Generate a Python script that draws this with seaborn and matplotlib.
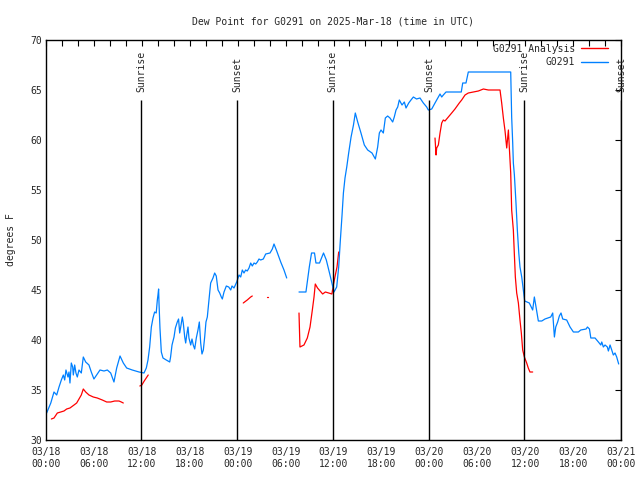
import matplotlib
matplotlib.use("Agg")
import matplotlib.pyplot as plt
import numpy as np
import pandas as pd
import seaborn as sns
from matplotlib.lines import Line2D

nan = float("nan")

# hours after 2025-03-18 00:00 UTC; nan marks a gap in the record
obs_hours = [
    0.08, 0.6, 1.0, 1.34, 1.63, 1.92, 2.17, 2.34, 2.5, 2.75, 2.88, 3.0, 3.17, 3.34,
    3.42, 3.59, 3.75, 3.92, 4.13, 4.42, 4.67, 4.97, 5.38, 5.67, 6.0, 6.34, 6.76, 7.26,
    7.68, 8.1, 8.51, 8.85, 9.27, 9.68, 10.1, 10.8, 11.65, 12.27, 12.56, 12.77, 12.98,
    13.19, 13.4, 13.6, 13.8, 13.94, 14.02, 14.1, 14.15, 14.27, 14.44, 14.65, 15.06,
    15.49, 15.6, 15.78, 16.03, 16.2, 16.44, 16.6, 16.74, 16.87, 17.07, 17.19, 17.37,
    17.49, 17.62, 17.78, 17.9, 18.12, 18.28, 18.44, 18.62, 18.82, 19.03, 19.2, 19.37,
    19.53, 19.7, 19.87, 20.03, 20.2, 20.37, 20.53, 20.62, 20.91, 21.12, 21.32, 21.54,
    21.75, 21.95, 22.08, 22.29, 22.58, 22.88, 23.13, 23.29, 23.54, 23.71, 23.88, 24.17,
    24.38, 24.58, 24.79, 25.0, 25.2, 25.42, 25.63, 25.83, 26.05, 26.26, 26.46, 26.67,
    26.88, 27.21, 27.51, 28.05, 28.34, 28.55, 28.89, 29.39, 29.8, 30.14,
    nan,
    31.68, 32.55, 32.97, 33.25, 33.62, 33.8, 34.25, 34.75, 35.1, 35.5, 35.8, 36.06,
    36.4, 36.65, 36.86, 37.07, 37.24, 37.44, 37.66, 37.9, 38.2, 38.5, 38.73, 39.03,
    39.44, 39.86, 40.28, 40.82, 41.24, 41.53, 41.74, 41.95, 42.24, 42.49, 42.78, 43.07,
    43.41, 43.61, 43.83, 44.04, 44.24, 44.58, 44.87, 45.08, 45.42, 45.7, 46.0, 46.4,
    46.83, 47.25, 47.67, 47.87, 48.3, 48.71, 49.13, 49.34, 49.55, 49.75, 50.09, 52.0,
    52.18, 52.59, 52.88, 58.19, 58.31, 58.44, 58.52, 58.65, 58.85, 59.02, 59.2, 59.35,
    59.57, 59.77, 59.94, 60.52, 60.94, 61.15, 61.36, 61.65, 62.08, 62.48, 63.2, 63.45,
    63.66, 63.83, 64.07, 64.28, 64.49, 64.7, 65.2, 65.62, 66.04, 66.66, 66.96, 67.63,
    67.8, 68.05, 68.22, 68.75, 69.17, 69.47, 69.59, 69.79, 70.0, 70.29, 70.42, 70.63,
    70.84, 71.04, 71.25, 71.46, 71.71,
]
obs_dewpt = [
    32.7, 33.7, 34.8, 34.5, 35.3, 36.0, 36.5, 36.0, 37.0, 36.3, 36.8, 35.7, 37.7, 37.3,
    36.5, 37.5, 36.7, 36.3, 37.0, 36.7, 38.3, 37.8, 37.5, 36.8, 36.1, 36.5, 37.0, 36.9,
    37.0, 36.7, 35.8, 37.2, 38.4, 37.7, 37.2, 37.0, 36.8, 36.7, 37.2, 38.0, 39.3,
    41.3, 42.2, 42.8, 42.7, 44.0, 44.5, 45.1, 43.7, 41.2, 38.8, 38.2, 38.0,
    37.8, 38.3, 39.5, 40.3, 41.2, 41.8, 42.1, 40.7, 41.3, 42.3, 41.7, 40.3,
    39.7, 40.5, 41.3, 40.2, 39.5, 40.1, 39.5, 39.1, 40.2, 41.0, 41.8, 39.7,
    38.6, 39.0, 40.3, 41.8, 42.3, 43.7, 45.0, 45.7, 46.2, 46.7, 46.4, 45.0,
    44.7, 44.3, 44.1, 44.8, 45.4, 45.3, 45.0, 45.4, 45.2, 45.5, 45.8, 46.5,
    46.3, 47.0, 46.7, 47.0, 46.9, 47.2, 47.7, 47.4, 47.7, 47.6, 47.8, 48.1,
    48.0, 48.1, 48.6, 48.7, 49.1, 49.6, 48.9, 47.8, 47.0, 46.2,
    nan,
    44.8, 44.8, 47.3, 48.7, 48.7, 47.7, 47.7, 48.7, 48.0, 46.7, 45.7, 44.8,
    45.3, 47.3, 50.0, 52.5, 54.7, 56.2, 57.3, 58.7, 60.3, 61.5, 62.7, 61.8,
    60.7, 59.5, 59.0, 58.7, 58.1, 59.3, 60.7, 61.0, 60.7, 62.2, 62.4, 62.2,
    61.8, 62.3, 63.0, 63.3, 64.0, 63.5, 63.8, 63.2, 63.7, 64.0, 64.3, 64.1,
    64.2, 63.7, 63.3, 63.0, 63.1, 63.7, 64.3, 64.6, 64.3, 64.5, 64.8, 64.8,
    65.7, 65.7, 66.8, 66.8, 62.3, 59.7, 57.7, 56.5, 53.7, 51.0, 48.7, 47.3,
    46.3, 45.0, 43.9, 43.7, 43.0, 44.3, 43.3, 41.9, 41.9, 42.1, 42.3, 42.7,
    40.3, 41.3, 41.8, 42.4, 42.7, 42.1, 42.0, 41.3, 40.8, 40.8, 41.0, 41.1,
    41.3, 41.1, 40.2, 40.2, 39.8, 39.5, 39.8, 39.3, 39.5, 39.3, 38.9, 39.5,
    39.0, 38.5, 38.7, 38.3, 37.6,
]

ana_hours = [
    0.67, 1.0, 1.42, 1.84, 2.25, 2.59, 3.0, 3.51, 3.84, 4.13, 4.42, 4.67, 4.97, 5.38,
    5.92, 6.42, 7.05, 7.6, 8.1, 8.6, 9.14, 9.43, 9.68,
    nan,
    11.75, 12.0, 12.3, 12.8,
    nan,
    24.7, 25.2, 25.63, 25.83,
    nan,
    27.65, 27.75,
    nan,
    31.68, 31.8, 32.3, 32.72, 33.06, 33.35, 33.56, 33.72, 34.0, 34.43, 34.64, 34.98,
    35.4, 35.8, 35.98, 36.23, 36.44, 36.65,
    nan,
    48.71, 48.84, 48.92, 49.13, 49.34, 49.55, 49.75, 49.96, 50.38, 50.8, 51.21, 51.75,
    52.05, 52.47, 52.88, 53.51, 54.14, 54.77, 55.39, 56.85, 57.06, 57.27, 57.48, 57.69,
    57.9, 58.02, 58.19, 58.31, 58.52, 58.65, 58.77, 58.94, 59.15, 59.35, 59.52, 59.69,
    59.9, 60.19, 60.39, 60.6, 60.94,
]
ana_dewpt = [
    32.1, 32.2, 32.7, 32.8, 32.9, 33.1, 33.2, 33.5, 33.7, 34.1, 34.5, 35.1, 34.8, 34.5,
    34.3, 34.2, 34.0, 33.8, 33.8, 33.9, 33.9, 33.8, 33.7,
    nan,
    35.4, 35.5, 35.9, 36.5,
    nan,
    43.7, 44.0, 44.3, 44.4,
    nan,
    44.3, 44.3,
    nan,
    42.7, 39.3, 39.5, 40.2, 41.3, 43.0, 44.3, 45.6, 45.2, 44.8, 44.6, 44.8,
    44.7, 44.6, 45.5, 46.5, 47.3, 48.8,
    nan,
    60.2, 58.5, 59.2, 59.5, 60.7, 61.7, 62.0, 61.9, 62.3, 62.7, 63.1, 63.7,
    64.0, 64.5, 64.7, 64.8, 64.9, 65.1, 65.0, 65.0, 63.7, 62.2, 60.9, 59.2,
    61.0, 59.2, 56.7, 53.0, 51.0, 48.5, 46.3, 44.7, 43.7, 42.0, 40.7, 39.0,
    38.3, 37.7, 37.2, 36.8, 36.8,
]

sunrise_hours = [11.9, 35.9, 59.88]
sunset_hours = [23.93, 47.95, 72.0]

tick_hours = list(range(0, 73, 6))
tick_labels = [
    "03/18\n00:00", "03/18\n06:00", "03/18\n12:00", "03/18\n18:00",
    "03/19\n00:00", "03/19\n06:00", "03/19\n12:00", "03/19\n18:00",
    "03/20\n00:00", "03/20\n06:00", "03/20\n12:00", "03/20\n18:00",
    "03/21\n00:00",
]

colors = {"G0291 Analysis": "#ff0000", "G0291": "#0080ff"}


def to_frame(hours, values, name):
    d = pd.DataFrame({"hours": hours, "dewpt": values})
    d["seg"] = name + d["dewpt"].isna().cumsum().astype(str)
    d["series"] = name
    return d.dropna()


df = pd.concat([
    to_frame(ana_hours, ana_dewpt, "G0291 Analysis"),
    to_frame(obs_hours, obs_dewpt, "G0291"),
])

sns.set_style("white")
plt.rcParams["font.family"] = ["DejaVu Sans Mono"]
plt.rcParams["font.size"] = 7

fig = plt.figure(figsize=(6.4, 4.8), dpi=100)
ax = fig.add_axes([46 / 640, 40 / 480, 575 / 640, 400 / 480])

sns.lineplot(
    data=df, x="hours", y="dewpt", hue="series", units="seg", estimator=None,
    palette=colors, linewidth=0.9, legend=False, sort=False, ax=ax,
)

ax.vlines(sunrise_hours + sunset_hours, 30, 64, color="black", linewidth=1)
for h in sunrise_hours:
    ax.text(h, 64.8, "Sunrise", rotation=90, ha="center", va="bottom", fontsize=7)
for h in sunset_hours:
    ax.text(h, 64.8, "Sunset", rotation=90, ha="center", va="bottom", fontsize=7)

ax.set_xlim(0, 72)
ax.set_ylim(30, 70)
ax.set_xticks(tick_hours)
ax.set_xticklabels(tick_labels)
ax.set_xticks(range(0, 73, 2), minor=True)
ax.set_yticks(range(30, 71, 5))
ax.tick_params(axis="both", which="both", direction="in", top=True, right=True,
               color="black", width=0.8, labelsize=7)
ax.tick_params(axis="both", which="major", length=4)
ax.tick_params(axis="x", which="minor", length=4)
ax.tick_params(axis="x", which="major", pad=5)
ax.tick_params(axis="y", which="major", pad=3)
for s in ax.spines.values():
    s.set_color("black")
    s.set_linewidth(1)

ax.set_xlabel("")
ax.set_ylabel("degrees F", fontsize=7, labelpad=10)
ax.set_title("Dew Point for G0291 on 2025-Mar-18 (time in UTC)", fontsize=7, pad=11)

handles = [Line2D([], [], color=colors[k], linewidth=1) for k in colors]
ax.legend(handles, list(colors), loc="upper right", bbox_to_anchor=(0.986, 1.003),
          frameon=False, markerfirst=False, fontsize=7, handlelength=2.8,
          handletextpad=0.6, labelspacing=0.35, borderaxespad=0.3, borderpad=0.2)

plt.savefig("out.png", dpi=100)
